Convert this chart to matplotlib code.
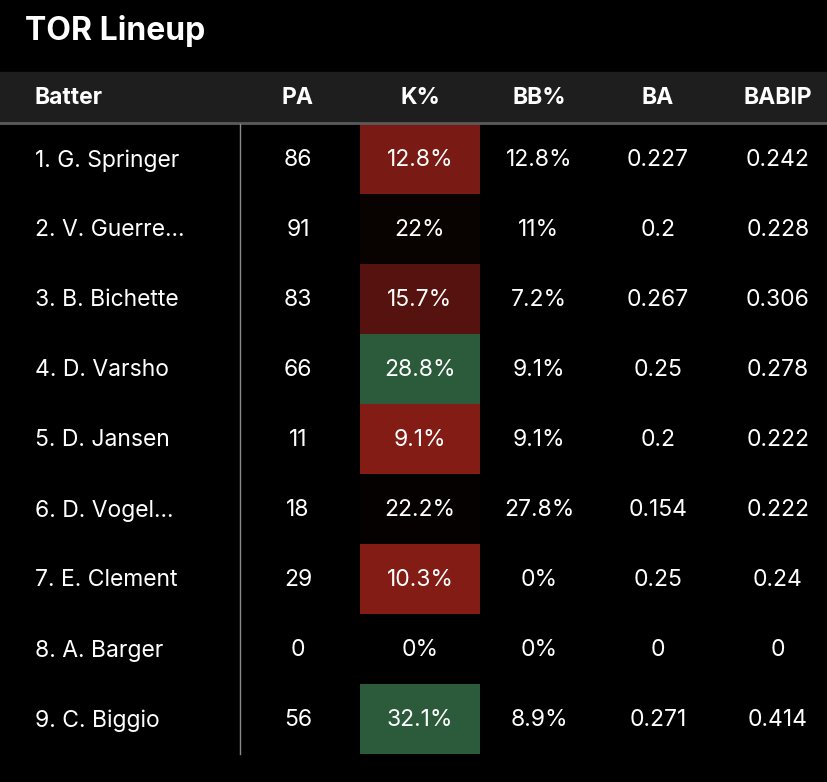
import numpy as np
import matplotlib.pyplot as plt
from matplotlib.colors import LinearSegmentedColormap, TwoSlopeNorm

plt.rcParams["font.family"] = ["Inter", "DejaVu Sans"]

title = "TOR Lineup"
columns = ["Batter", "PA", "K%", "BB%", "BA", "BABIP"]
batters = ["1. G. Springer", "2. V. Guerre...", "3. B. Bichette", "4. D. Varsho",
           "5. D. Jansen", "6. D. Vogel...", "7. E. Clement", "8. A. Barger",
           "9. C. Biggio"]
pa = [86, 91, 83, 66, 11, 18, 29, 0, 56]
k_pct = [12.8, 22, 15.7, 28.8, 9.1, 22.2, 10.3, 0, 32.1]
bb_pct = [12.8, 11, 7.2, 9.1, 9.1, 27.8, 0, 0, 8.9]
ba = ["0.227", "0.2", "0.267", "0.25", "0.2", "0.154", "0.25", "0", "0.271"]
babip = ["0.242", "0.228", "0.306", "0.278", "0.222", "0.222", "0.24", "0", "0.414"]

def fmt_pct(v):
    return f"{v:g}%"

# layout (pixel units)
W, H = 828, 782
col_x = [35, 298, 420, 539, 658, 778]
k_left, k_right = 360, 480
head_top, head_bot = 72, 122
row_top, row_h = 124, 70

cmap = LinearSegmentedColormap.from_list("kcol", ["#821c15", "#000000", "#2c5b3c"])
norm = TwoSlopeNorm(vmin=12.0, vcenter=22.6, vmax=28.5)

fig = plt.figure(figsize=(W / 100, H / 100), dpi=100, facecolor="black")
ax = fig.add_axes([0, 0, 1, 1])
ax.set_facecolor("black")
ax.set_xlim(0, W)
ax.set_ylim(H, 0)
ax.axis("off")

ax.text(25, 31, title, color="white", fontsize=23, fontweight="bold",
        va="center", ha="left")

# header band
ax.axhspan(head_top, head_bot, color="#1e1e1e", zorder=0)
ax.axhline(head_bot + 1, color="#5a5a5a", lw=2)
for i, c in enumerate(columns):
    ha = "left" if i == 0 else "center"
    ax.text(col_x[i], (head_top + head_bot) / 2 + 1, c, color="white", fontsize=16.5,
            fontweight="bold", ha=ha, va="center")

n = len(batters)
ax.plot([240, 240], [row_top, row_top + n * row_h], color="#8a8a8a", lw=1)

for i in range(n):
    y0 = row_top + i * row_h
    yc = y0 + row_h / 2 + 1.5
    if pa[i] > 0:
        val = np.clip(k_pct[i], norm.vmin, norm.vmax)
        ax.fill_between([k_left, k_right], y0, y0 + row_h,
                        color=cmap(norm(val)), lw=0, zorder=1)
    vals = [batters[i], str(pa[i]), fmt_pct(k_pct[i]), fmt_pct(bb_pct[i]), ba[i], babip[i]]
    for j, v in enumerate(vals):
        ha = "left" if j == 0 else "center"
        ax.text(col_x[j], yc, v, color="white", fontsize=16.5, ha=ha, va="center", zorder=2)

fig.savefig("out.png", dpi=100, facecolor="black")
